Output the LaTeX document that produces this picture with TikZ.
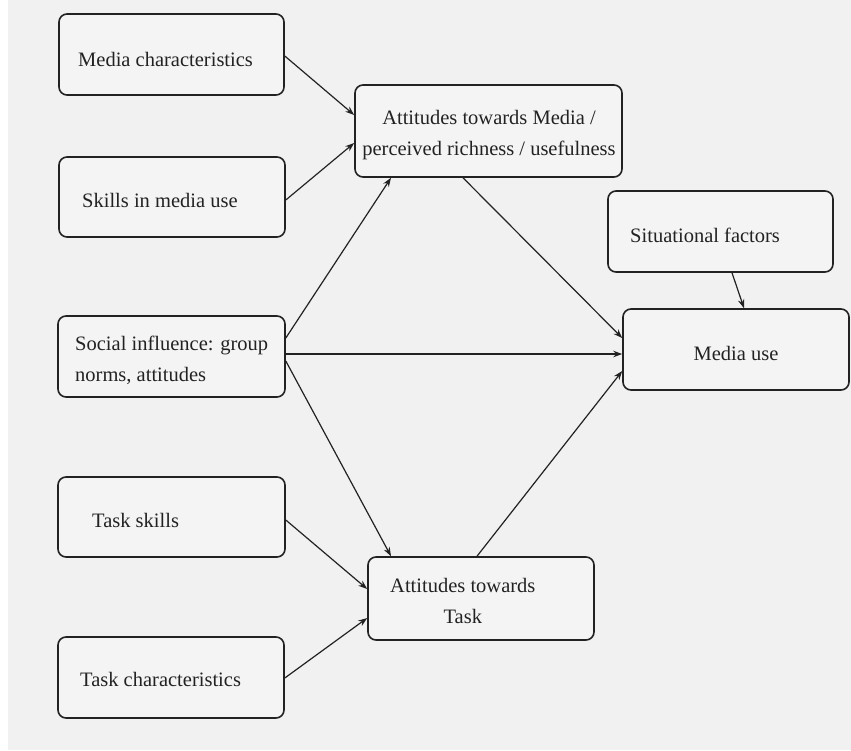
\documentclass[tikz,border=0pt]{standalone}
\usepackage{fontspec}
\setmainfont{Liberation Serif}
\usetikzlibrary{arrows.meta}
\definecolor{paper}{HTML}{F1F1F1}
\definecolor{boxfill}{HTML}{F4F4F4}
\definecolor{ink}{HTML}{222222}
\begin{document}
\begin{tikzpicture}[x=1pt,y=-1pt,
  box/.style={draw=ink, line width=1.6pt, rounded corners=8pt, fill=boxfill,
              inner sep=0pt},
  lbl/.style={text=ink, inner sep=0pt, font=\fontsize{20.5}{31}\selectfont},
  link/.style={draw=ink, line width=1.2pt, -{Stealth[length=9pt,width=6.5pt]}}]
  % page
  \fill[paper] (0,0) rectangle (851,750);
  \fill[white] (0,0) rectangle (8,750);
  \useasboundingbox (0,0) rectangle (851,750);

  % boxes
  \node[box, minimum width=225pt, minimum height=81pt] (mc) at (171.5,54.5) {};
  \node[box, minimum width=226pt, minimum height=80pt] (sk) at (172,197) {};
  \node[box, minimum width=227pt, minimum height=81pt] (si) at (171.5,356.5) {};
  \node[box, minimum width=227pt, minimum height=80pt] (ts) at (171.5,517) {};
  \node[box, minimum width=226pt, minimum height=81pt] (tc) at (171,677.5) {};
  \node[box, minimum width=267pt, minimum height=92pt] (am) at (488.5,131) {};
  \node[box, minimum width=225pt, minimum height=81pt] (sf) at (720.5,231.5) {};
  \node[box, minimum width=226pt, minimum height=81pt] (mu) at (736,349.5) {};
  \node[box, minimum width=226pt, minimum height=83pt] (at) at (481,598.5) {};

  % texts (multi-line labels are anchored on their last baseline)
  \node[lbl, anchor=base west] (mct) at (78,66) {Media characteristics};
  \node[lbl, anchor=base west] (skt) at (82,207) {Skills in media use};
  \node[lbl, anchor=base west, align=left] (sit) at (75,381)
       {Social influence: group\\norms, attitudes};
  \node[lbl, anchor=base west] (tst) at (92,527) {Task skills};
  \node[lbl, anchor=base west] (tct) at (80,686) {Task characteristics};
  \node[lbl, anchor=base, align=center] (amt) at (489,155)
       {Attitudes towards Media /\\perceived richness / usefulness};
  \node[lbl, anchor=base west] (sft) at (630,242) {Situational factors};
  \node[lbl, anchor=base] (mut) at (736,360) {Media use};
  \node[lbl, anchor=base west, align=center] (att) at (390,623)
       {Attitudes towards\\Task};

  % connectors
  \draw[link] ([yshift=-1.5pt]mc.east) -- ([yshift=16pt]am.west);
  \draw[link] ([yshift=-3pt]sk.east) -- ([yshift=-12pt]am.west);
  \draw[link] ([yshift=18.5pt]si.east) -- ([xshift=-97.5pt]am.south);
  \draw[link] ([yshift=2.5pt]si.east) -- ([yshift=-4.5pt]mu.west);
  \draw[link] ([yshift=-4.5pt]si.east) -- ([xshift=-90pt]at.north);
  \draw[link] ([xshift=-25.5pt]am.south) -- ([yshift=11.5pt]mu.west);
  \draw[link] ([xshift=11.5pt]sf.south) -- ([xshift=8pt]mu.north);
  \draw[link] ([xshift=-4pt]at.north) -- ([yshift=-21.5pt]mu.west);
  \draw[link] ([yshift=-3pt]ts.east) -- ([yshift=9.5pt]at.west);
  \draw[link] ([yshift=-0.5pt]tc.east) -- ([yshift=-19.5pt]at.west);
\end{tikzpicture}
\end{document}
